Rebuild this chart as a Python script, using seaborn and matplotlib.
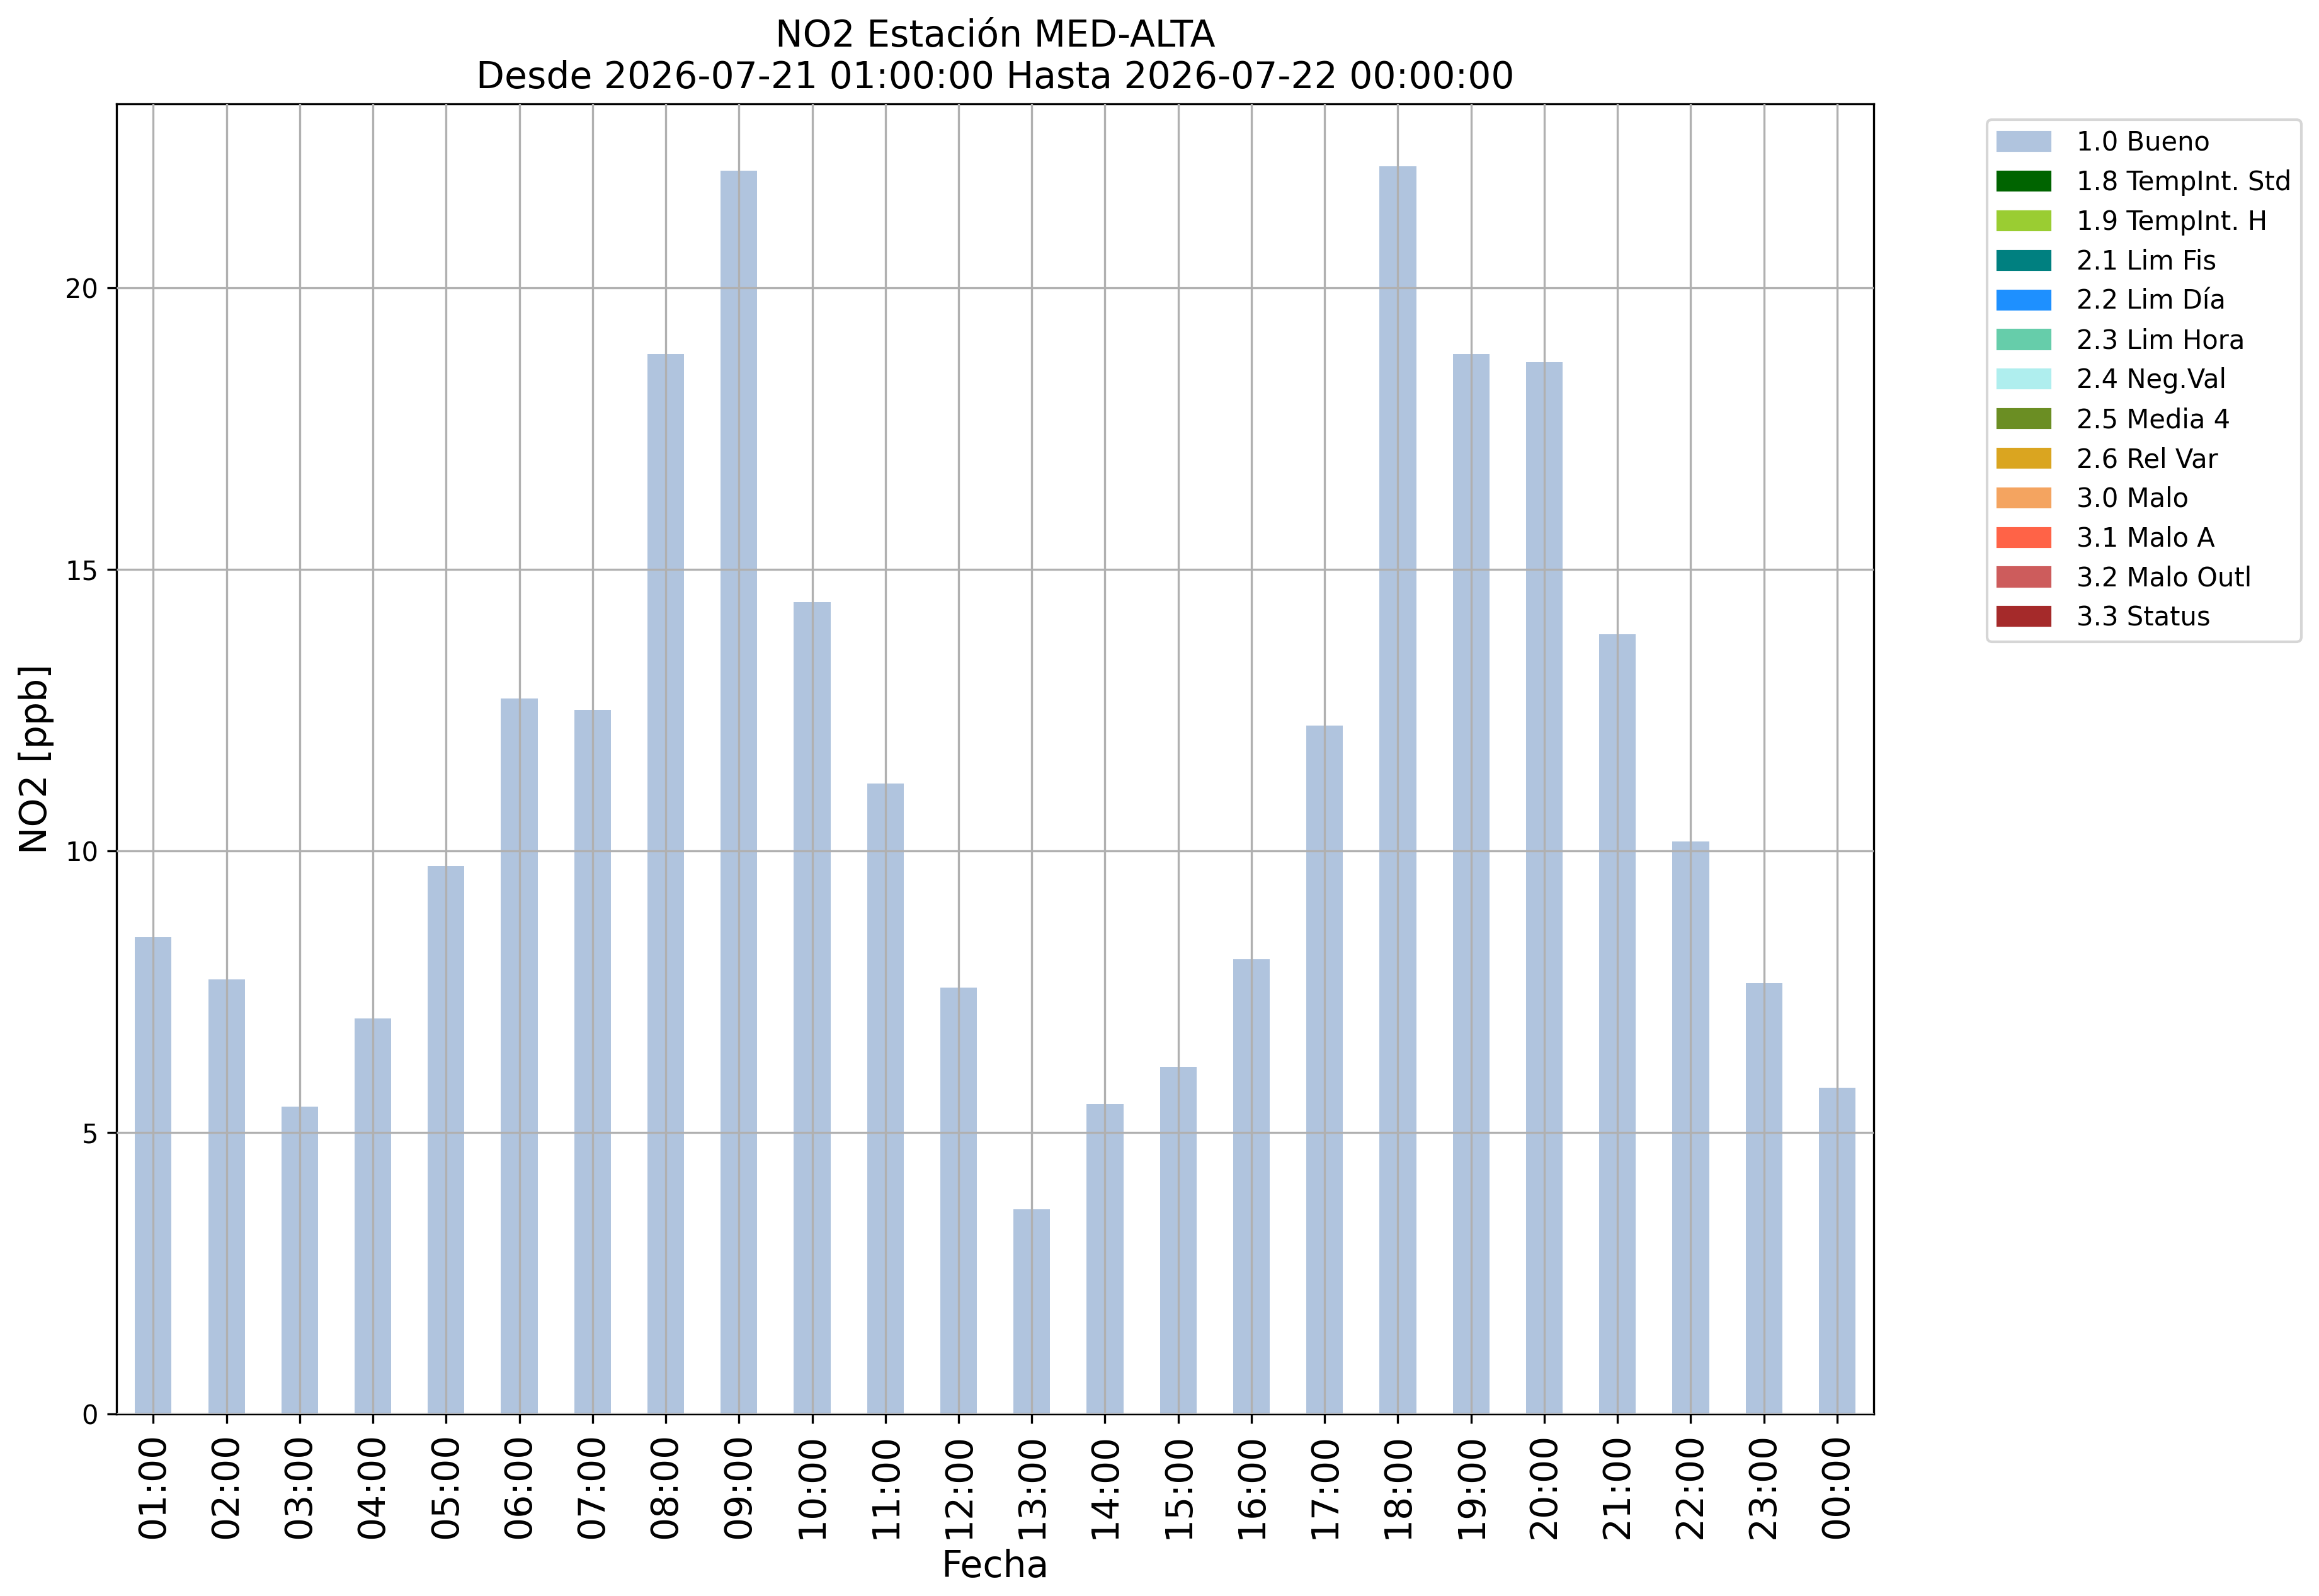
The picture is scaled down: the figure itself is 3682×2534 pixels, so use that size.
import matplotlib
matplotlib.use('Agg')

import matplotlib.pyplot as plt
import matplotlib.patches as mpatches
import seaborn as sns
import pandas as pd

# hourly NO2 values (ppb), all flagged as "1.0 Bueno"
horas = ['01:00', '02:00', '03:00', '04:00', '05:00', '06:00', '07:00', '08:00',
         '09:00', '10:00', '11:00', '12:00', '13:00', '14:00', '15:00', '16:00',
         '17:00', '18:00', '19:00', '20:00', '21:00', '22:00', '23:00', '00:00']
no2 = [8.47, 7.72, 5.46, 7.02, 9.73, 12.71, 12.50, 18.82,
       22.08, 14.42, 11.20, 7.57, 3.64, 5.50, 6.16, 8.08,
       12.23, 22.16, 18.83, 18.68, 13.85, 10.17, 7.65, 5.80]

# quality flags and their colours
flags = ['1.0 Bueno', '1.8 TempInt. Std', '1.9 TempInt. H', '2.1 Lim Fis',
         '2.2 Lim Día', '2.3 Lim Hora', '2.4 Neg.Val', '2.5 Media 4',
         '2.6 Rel Var', '3.0 Malo', '3.1 Malo A', '3.2 Malo Outl', '3.3 Status']
flag_colors = ['lightsteelblue', 'darkgreen', 'yellowgreen', 'teal',
               'dodgerblue', 'mediumaquamarine', 'paleturquoise', 'olivedrab',
               'goldenrod', 'sandybrown', 'tomato', 'indianred', 'brown']

df = pd.DataFrame({'Fecha': horas, 'NO2': no2})

fig, ax = plt.subplots(figsize=(3682 / 300, 2534 / 300), dpi=300)
fig.subplots_adjust(left=0.0503, right=0.808, top=0.935, bottom=0.114)

sns.barplot(data=df, x='Fecha', y='NO2', color=flag_colors[0], saturation=1,
            width=0.5, ax=ax)

# grid drawn over the bars, like pandas' default
ax.grid(True, color='#b0b0b0', linewidth=0.8)
ax.set_axisbelow(False)
for sp in ax.spines.values():
    sp.set_color('black')
    sp.set_linewidth(0.8)

ax.set_title('NO2 Estación MED-ALTA\nDesde 2026-07-21 01:00:00 Hasta 2026-07-22 00:00:00',
             fontsize=14)
ax.set_ylabel('NO2 [ppb]', fontsize=14)
ax.set_xlabel('Fecha', fontsize=14)
ax.tick_params(axis='x', labelsize=14, labelrotation=90)
ax.tick_params(axis='y', labelsize=10)

handles = [mpatches.Patch(color=c, label=l) for l, c in zip(flags, flag_colors)]
ax.legend(handles=handles, bbox_to_anchor=(1.057, 0.998), loc='upper left',
          fontsize=10, handletextpad=1.0)

plt.savefig('out.png', dpi=300)
plt.close()
